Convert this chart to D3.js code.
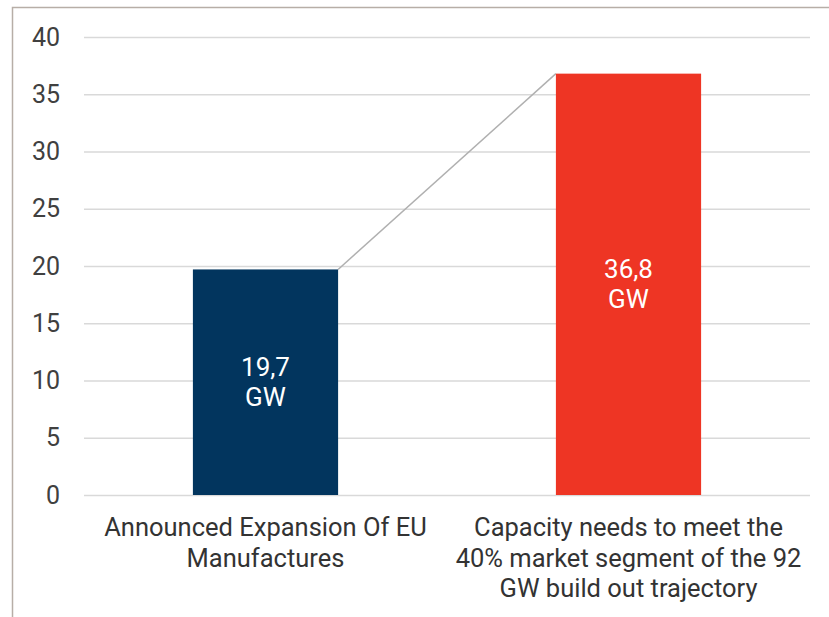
<!DOCTYPE html>
<html><head><meta charset="utf-8">
<script src="https://cdn.jsdelivr.net/npm/d3@7"></script>
<style>body{margin:0;background:#fff;}svg{display:block;}</style>
</head><body>
<svg id="chart" width="829" height="617"></svg>
<script>
const categories = ["Announced Expansion Of EU\nManufactures", "Capacity needs to meet the\n40% market segment of the 92\nGW build out trajectory"];
const values = [19.7, 36.8];
const valueLabels = ["19,7\nGW", "36,8\nGW"];
const colors = ["#02355e", "#ee3524"];
const yTicks = [0, 5, 10, 15, 20, 25, 30, 35, 40];

const svg = d3.select("#chart");
const W = 829, H = 617;
const margin = {left: 84, right: 19, top: 37, bottom: 122};
const font = "Roboto, 'Liberation Sans', sans-serif";

// border (top and left)
svg.append("path").attr("d", `M12.5,${H} V7.5 H${W}`).attr("fill", "none").attr("stroke", "#b7aea7").attr("stroke-width", 1.5);

const x = d3.scaleBand().domain(categories).range([margin.left, W - margin.right]).paddingInner(0.6).paddingOuter(0.3);
const y = d3.scaleLinear().domain([0, 40]).range([H - margin.bottom, margin.top]);

// gridlines
const yAxis = d3.axisLeft(y).tickValues(yTicks).tickSize(-(W - margin.left - margin.right)).tickPadding(24).tickFormat(d3.format("d"));
const ga = svg.append("g").attr("transform", `translate(${margin.left},0)`).call(yAxis);
ga.select(".domain").remove();
ga.selectAll(".tick line").attr("stroke", "#d9d9d9").attr("stroke-width", 1.5);
ga.selectAll(".tick text").attr("fill", "#404040").style("font-family", font).style("font-size", "25px");

// connector line
svg.append("line")
  .attr("x1", x(categories[0]) + x.bandwidth()).attr("y1", y(values[0]))
  .attr("x2", x(categories[1])).attr("y2", y(values[1]))
  .attr("stroke", "#b0b0b0").attr("stroke-width", 1.5);

// bars
svg.selectAll("rect.bar").data(values).join("rect").attr("class", "bar")
  .attr("x", (d, i) => x(categories[i])).attr("width", x.bandwidth())
  .attr("y", d => y(d)).attr("height", d => y(0) - y(d))
  .attr("fill", (d, i) => colors[i]);

// value labels
values.forEach((v, i) => {
  const cx = x(categories[i]) + x.bandwidth() / 2;
  const cy = (y(v) + y(0)) / 2;
  const lines = valueLabels[i].split("\n");
  const t = svg.append("text").attr("text-anchor", "middle").attr("fill", "#fff")
    .style("font-family", font).style("font-size", "26px");
  lines.forEach((ln, j) => {
    t.append("tspan").attr("x", cx).attr("y", cy + (j - (lines.length - 1) / 2) * 30 + 9).text(ln);
  });
});

// category labels
categories.forEach((c, i) => {
  const cx = x(c) + x.bandwidth() / 2;
  const t = svg.append("text").attr("text-anchor", "middle").attr("fill", "#333")
    .style("font-family", font).style("font-size", "25.5px");
  c.split("\n").forEach((ln, j) => {
    t.append("tspan").attr("x", cx).attr("y", 536 + j * 30.5).text(ln);
  });
});
</script>
</body></html>
